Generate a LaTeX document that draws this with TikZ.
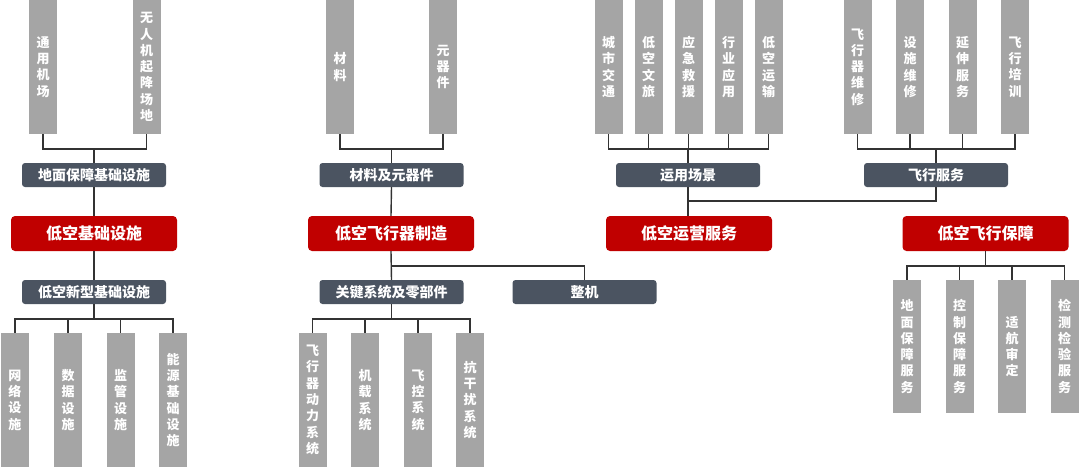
\documentclass[tikz,border=0pt]{standalone}
\usepackage{fontspec}
\setmainfont{Noto Sans CJK SC}
\definecolor{bargray}{HTML}{A5A5A5}
\definecolor{slate}{HTML}{4B5461}
\definecolor{deepred}{HTML}{C00000}
\definecolor{linec}{HTML}{333333}
\begin{document}
\begin{tikzpicture}[x=1pt,y=-1pt,
  bar/.style={fill=bargray,draw=none,minimum width=28pt,minimum height=134pt,inner sep=0pt,
    text=white,align=center,font=\fontsize{13}{16.3}\selectfont\bfseries},
  subbox/.style={fill=slate,draw=none,rounded corners=3pt,minimum width=144pt,minimum height=24pt,inner sep=0pt,
    text=white,font=\fontsize{14}{16}\selectfont\bfseries},
  mainbox/.style={fill=deepred,draw=none,rounded corners=4pt,minimum width=166pt,minimum height=35pt,inner sep=0pt,
    text=white,font=\fontsize{16}{18}\selectfont\bfseries},
  conn/.style={draw=linec,line width=1.4pt}]
\useasboundingbox (0,0) rectangle (1080,467);
% ---------- top bars ----------
\node[bar] (ta1) at (43,67) {通\\用\\机\\场};
\node[bar] (ta2) at (146.5,67) {无\\人\\机\\起\\降\\场\\地};
\node[bar] (tb1) at (340,67) {材\\料};
\node[bar] (tb2) at (443,67) {元\\器\\件};
\node[bar] (tc1) at (608.5,67) {城\\市\\交\\通};
\node[bar] (tc2) at (648.5,67) {低\\空\\文\\旅};
\node[bar] (tc3) at (688.5,67) {应\\急\\救\\援};
\node[bar] (tc4) at (728.5,67) {行\\业\\应\\用};
\node[bar] (tc5) at (768.5,67) {低\\空\\运\\输};
\node[bar] (td1) at (857.5,67) {飞\\行\\器\\维\\修};
\node[bar] (td2) at (910,67) {设\\施\\维\\修};
\node[bar] (td3) at (962.5,67) {延\\伸\\服\\务};
\node[bar] (td4) at (1015,67) {飞\\行\\培\\训};
% ---------- sub boxes (upper) ----------
\node[subbox] (sa) at (94,175) {地面保障基础设施};
\node[subbox] (sb) at (391.5,175) {材料及元器件};
\node[subbox] (sc) at (688,175) {运用场景};
\node[subbox] (sd) at (936,175) {飞行服务};
% ---------- main boxes ----------
\node[mainbox] (ma) at (94,233.5) {低空基础设施};
\node[mainbox] (mb) at (391,233.5) {低空飞行器制造};
\node[mainbox] (mc) at (689,233.5) {低空运营服务};
\node[mainbox] (md) at (985.5,233.5) {低空飞行保障};
% ---------- sub boxes (lower) ----------
\node[subbox] (la) at (94,292) {低空新型基础设施};
\node[subbox] (lb) at (391.5,292) {关键系统及零部件};
\node[subbox] (lz) at (584.5,292) {整机};
% ---------- bottom bars ----------
\node[bar] (ba1) at (15,400) {网\\络\\设\\施};
\node[bar] (ba2) at (68,400) {数\\据\\设\\施};
\node[bar] (ba3) at (120.5,400) {监\\管\\设\\施};
\node[bar] (ba4) at (173,400) {能\\源\\基\\础\\设\\施};
\node[bar] (bb1) at (312.5,400) {飞\\行\\器\\动\\力\\系\\统};
\node[bar] (bb2) at (365,400) {机\\载\\系\\统};
\node[bar] (bb3) at (418,400) {飞\\控\\系\\统};
\node[bar] (bb4) at (470,400) {抗\\干\\扰\\系\\统};
\node[bar,minimum height=133pt] (bd1) at (907,346.5) {地\\面\\保\\障\\服\\务};
\node[bar,minimum height=133pt] (bd2) at (959.5,346.5) {控\\制\\保\\障\\服\\务};
\node[bar,minimum height=133pt] (bd3) at (1012,346.5) {适\\航\\审\\定};
\node[bar,minimum height=133pt] (bd4) at (1064.5,346.5) {检\\测\\检\\验\\服\\务};
% ---------- junctions ----------
\coordinate (ja) at (94,149);
\coordinate (jb) at (391.5,149);
\coordinate (jc) at (688,149);
\coordinate (jd) at (936,149);
\coordinate (jcd) at (688,201);
\coordinate (jla) at (94,319);
\coordinate (jm) at (391.5,266);
\coordinate (jlb) at (391.5,319);
\coordinate (jmd) at (985.5,266);
% ---------- connectors ----------
\draw[conn] (ta1.south) |- (ja) -| (ta2.south);
\draw[conn] (ja) -- (sa.north);
\draw[conn] (sa.south) -- (ma.north);
\draw[conn] (ma.south) -- (la.north);
\draw[conn] (la.south) -- (jla);
\draw[conn] (ba1.north) |- (jla) -| (ba4.north);
\draw[conn] (ba2.north) -- (ba2.north |- jla);
\draw[conn] (ba3.north) -- (ba3.north |- jla);
\draw[conn] (tb1.south) |- (jb) -| (tb2.south);
\draw[conn] (jb) -- (sb.north);
\draw[conn] (sb.south) -- (mb.north);
\draw[conn] (mb.south) -- (lb.north);
\draw[conn] (jm) -| (lz.north);
\draw[conn] (lb.south) -- (jlb);
\draw[conn] (bb1.north) |- (jlb) -| (bb4.north);
\draw[conn] (bb2.north) -- (bb2.north |- jlb);
\draw[conn] (bb3.north) -- (bb3.north |- jlb);
\draw[conn] (tc1.south) |- (jc) -| (tc5.south);
\draw[conn] (tc2.south) -- (tc2.south |- jc);
\draw[conn] (tc3.south) -- (tc3.south |- jc);
\draw[conn] (tc4.south) -- (tc4.south |- jc);
\draw[conn] (jc) -- (sc.north);
\draw[conn] (sc.south) -- (mc.north -| sc.south);
\draw[conn] (sd.south) |- (jcd);
\draw[conn] (td1.south) |- (jd) -| (td4.south);
\draw[conn] (td2.south) -- (td2.south |- jd);
\draw[conn] (td3.south) -- (td3.south |- jd);
\draw[conn] (jd) -- (sd.north);
\draw[conn] (md.south) -- (jmd);
\draw[conn] (bd1.north) |- (jmd) -| (bd4.north);
\draw[conn] (bd2.north) -- (bd2.north |- jmd);
\draw[conn] (bd3.north) -- (bd3.north |- jmd);
\end{tikzpicture}
\end{document}
